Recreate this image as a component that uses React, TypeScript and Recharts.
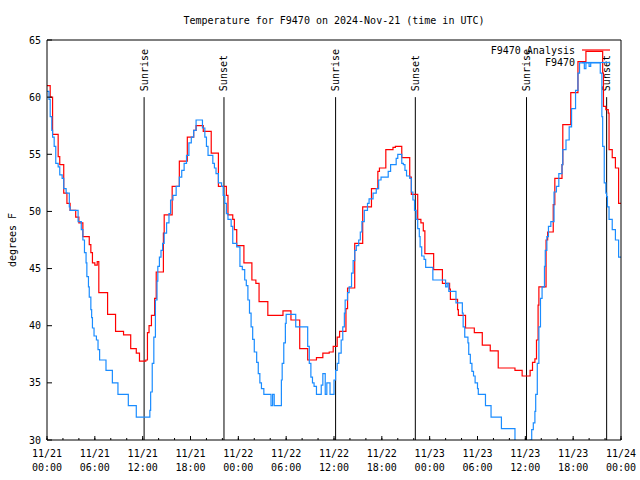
import { LineChart, Line, XAxis, YAxis, ReferenceLine, Legend } from "recharts";

// [hour since 11/21 00:00 UTC, degrees F] - values are step starts
const analysisSteps: [number, number][] = [
  [0, 61], [0.4, 60], [0.7, 56.75], [1.4, 54.8], [1.6, 54.1], [2.1, 51.6], [2.5, 50.7], [2.9, 50.1],
  [3.6, 49.5], [4.0, 49.0], [4.5, 47.8], [5.3, 47.1], [5.5, 46.4], [5.7, 45.5], [6.0, 45.3], [6.3, 45.6],
  [6.5, 42.9], [7.6, 41.0], [8.6, 39.5], [9.6, 39.2], [10.5, 38.0], [11.2, 37.6], [11.6, 36.9], [12.4, 37.0],
  [12.6, 39.4], [12.8, 40.0], [13.1, 40.9], [13.5, 42.4], [13.7, 44.7], [14.6, 48.1], [14.7, 49.7], [15.7, 52.2],
  [16.6, 54.4], [17.6, 56.5], [18.4, 57.1], [18.7, 57.5], [19.6, 57.0], [20.6, 55.1], [21.5, 52.2], [22.5, 51.4],
  [22.7, 49.7], [23.3, 49.3], [23.5, 48.4], [23.8, 47.0], [24.7, 45.5], [25.7, 44.0], [26.2, 43.7], [26.6, 42.1],
  [27.7, 40.9], [29.6, 41.3], [30.6, 40.5], [31.7, 38.0], [32.7, 37.0], [33.8, 37.2], [34.6, 37.6], [35.4, 37.7],
  [35.9, 38.2], [36.4, 39.0], [36.7, 39.5], [37.5, 41.5], [37.7, 43.3], [38.6, 47.2], [39.6, 50.4], [40.7, 52.0],
  [41.5, 53.5], [41.7, 53.8], [42.5, 55.4], [43.4, 55.6], [43.7, 55.7], [44.5, 54.7], [45.5, 53.0], [45.7, 51.5],
  [46.5, 49.3], [46.9, 49.0], [47.2, 48.3], [47.4, 46.3], [48.5, 44.9], [49.6, 43.7], [50.5, 43.2], [50.6, 42.3],
  [51.5, 41.4], [51.6, 40.9], [52.5, 39.8], [53.6, 39.4], [54.6, 38.3], [55.6, 37.8], [56.6, 36.3], [58.7, 36.1],
  [59.6, 35.6], [60.6, 36.1], [60.9, 36.8], [61.2, 37.1], [61.4, 38.75], [61.6, 41.8], [61.7, 43.4], [62.6, 47.5],
  [62.8, 48.2], [63.5, 50.6], [63.7, 52.9], [64.6, 54.1], [64.7, 57.6], [65.7, 60.4], [66.6, 63.1], [67.6, 64.0],
  [69.7, 62.1], [69.8, 59.2], [70.1, 58.9], [70.4, 58.6], [70.5, 55.4], [70.9, 54.7], [71.3, 53.8], [71.7, 50.7],
  [72, 50.7],
];

const stationSteps: [number, number][] = [
  [0, 60.5], [0.25, 59.8], [0.4, 58.3], [0.6, 57.1], [0.7, 56.5], [0.9, 55.7], [1.1, 54.2], [1.4, 53.9],
  [1.6, 53.2], [1.9, 52.9], [2.1, 52.0], [2.4, 51.6], [2.8, 50.4], [2.9, 50.1], [3.9, 49.1], [4.3, 48.4],
  [4.5, 47.5], [4.7, 46.4], [4.9, 45.5], [5.0, 44.3], [5.2, 43.4], [5.3, 42.5], [5.5, 41.4], [5.6, 40.7],
  [5.7, 39.8], [5.9, 39.1], [6.2, 38.75], [6.4, 37.9], [6.6, 37.0], [7.4, 36.1], [8.2, 35.0], [8.9, 34.0],
  [10.2, 33.0], [11.2, 32.0], [12.9, 32.6], [13.0, 34.2], [13.2, 36.7], [13.4, 39.0], [13.6, 42.25], [13.8, 43.9],
  [13.9, 45.2], [14.1, 46.0], [14.3, 46.6], [14.5, 47.2], [14.7, 48.1], [15.0, 49.0], [15.3, 49.8], [15.5, 51.0],
  [15.8, 51.4], [16.2, 52.2], [16.6, 53.0], [16.9, 53.6], [17.2, 54.2], [17.5, 54.9], [17.8, 56.0], [18.1, 56.5],
  [18.4, 57.1], [18.7, 58.0], [19.5, 57.3], [19.8, 56.5], [20.0, 55.7], [20.2, 54.9], [20.8, 54.2], [21.0, 53.8],
  [21.2, 53.3], [21.5, 52.5], [21.9, 52.2], [22.1, 51.4], [22.3, 50.7], [22.5, 49.8], [22.7, 49.3], [23.1, 48.7],
  [23.3, 47.2], [23.8, 46.9], [24.2, 45.2], [24.5, 44.9], [24.8, 44.0], [25.0, 43.5], [25.2, 42.25], [25.4, 41.1],
  [25.6, 39.9], [25.8, 38.8], [26.0, 37.7], [26.3, 36.8], [26.5, 35.8], [26.7, 35.0], [26.9, 34.5], [27.2, 34.0],
  [28.1, 33.0], [28.3, 34.0], [28.5, 33.0], [29.4, 35.25], [29.5, 36.7], [29.7, 38.5], [29.9, 40.2], [30.0, 41.0],
  [31.2, 39.9], [32.7, 38.2], [32.9, 36.7], [33.1, 35.5], [33.3, 35.0], [33.5, 34.7], [33.8, 34.0], [34.4, 34.8],
  [34.6, 35.8], [34.9, 34.0], [35.1, 35.0], [35.5, 34.0], [36.0, 35.25], [36.2, 36.1], [36.4, 36.7], [36.6, 37.6],
  [36.9, 38.75], [37.1, 39.9], [37.3, 41.1], [37.4, 42.25], [37.7, 42.9], [37.9, 43.4], [38.2, 44.6], [38.4, 45.7],
  [38.6, 46.6], [38.8, 47.0], [39.1, 47.5], [39.3, 48.2], [39.5, 49.1], [39.8, 50.1], [40.2, 50.7], [40.4, 51.1],
  [40.9, 51.6], [41.3, 52.0], [41.6, 52.75], [41.9, 53.0], [42.8, 53.5], [43.1, 54.1], [43.8, 54.65], [44.0, 55.0],
  [44.5, 54.2], [44.7, 54.1], [44.9, 53.6], [45.1, 53.1], [45.5, 52.9], [45.7, 51.7], [45.9, 51.0], [46.1, 50.1],
  [46.3, 49.3], [46.5, 48.5], [46.7, 47.8], [46.8, 46.9], [47.0, 46.1], [47.3, 45.8], [47.5, 45.1], [48.4, 44.0],
  [50.0, 43.4], [50.2, 43.7], [50.4, 43.0], [51.3, 42.0], [52.1, 41.1], [52.2, 39.9], [52.4, 39.0], [52.8, 38.5],
  [52.9, 37.5], [53.1, 36.7], [53.3, 36.0], [53.5, 35.6], [53.7, 35.0], [54.0, 34.5], [54.1, 34.0], [55.0, 33.0],
  [55.7, 32.0], [57.0, 31.0], [58.7, 29.5], [59.5, 29.0], [60.6, 30.0], [60.8, 30.9], [61.0, 31.5], [61.2, 32.5],
  [61.3, 34.0], [61.5, 36.7], [61.7, 39.9], [61.9, 42.4], [62.1, 43.4], [62.4, 45.2], [62.5, 46.6], [62.7, 47.8],
  [62.9, 48.7], [63.2, 49.1], [63.6, 51.7], [63.9, 52.2], [64.2, 53.3], [64.6, 54.1], [64.7, 55.4], [65.1, 56.25],
  [65.5, 57.4], [65.8, 59.0], [66.3, 60.6], [66.6, 62.1], [66.8, 63.0], [67.4, 62.5], [67.6, 63.0], [68.0, 62.7],
  [68.2, 63.0], [69.4, 62.1], [69.6, 58.3], [69.7, 55.7], [69.9, 52.5], [70.1, 51.6], [70.2, 51.3], [70.3, 50.4],
  [70.5, 49.3], [70.9, 48.4], [71.3, 47.5], [71.7, 46.0], [72, 46.0],
];

const sunHours = [12.18, 22.2, 36.2, 46.2, 60.15, 70.2];
const sunNames = ["Sunrise", "Sunset", "Sunrise", "Sunset", "Sunrise", "Sunset"];

const hourTicks = [0, 2, 4, 6, 8, 10, 12, 14, 16, 18, 20, 22, 24, 26, 28, 30, 32, 34, 36,
  38, 40, 42, 44, 46, 48, 50, 52, 54, 56, 58, 60, 62, 64, 66, 68, 70, 72];
const tempTicks = [30, 35, 40, 45, 50, 55, 60, 65];

const title = "Temperature for F9470 on 2024-Nov-21 (time in UTC)";
const series = [
  { name: "F9470 Analysis", color: "#ff0000" },
  { name: "F9470", color: "#1a8cff" },
];

const FONT = "'DejaVu Sans Mono', monospace";

const toRows = (steps: [number, number][]) => steps.map(([h, t]) => ({ h, t }));

function BottomTick(props: any) {
  const { x, y, payload } = props;
  const v = payload.value;
  if (v % 6 !== 0) return null;
  const day = 21 + Math.floor(v / 24);
  const hh = String(v % 24).padStart(2, "0");
  return (
    <g>
      <line x1={x} x2={x} y1={y} y2={y - 4} stroke="#000" />
      <text x={x} y={y + 17} textAnchor="middle" fontFamily={FONT} fontSize={10} fill="#000">
        {`11/${day}`}
      </text>
      <text x={x} y={y + 31} textAnchor="middle" fontFamily={FONT} fontSize={10} fill="#000">
        {`${hh}:00`}
      </text>
    </g>
  );
}

function TopTick(props: any) {
  const { x, y, payload } = props;
  if (payload.value % 6 !== 0) return null;
  return <line x1={x} x2={x} y1={y} y2={y + 4} stroke="#000" />;
}

function YLabel(props: any) {
  const { viewBox } = props;
  const x = viewBox.x + 5;
  const y = viewBox.y + viewBox.height / 2;
  return (
    <text x={x} y={y} transform={`rotate(-90, ${x}, ${y})`} textAnchor="middle"
      dominantBaseline="central" fontFamily={FONT} fontSize={10} fill="#000">
      degrees F
    </text>
  );
}

function SunLabel(props: any) {
  const { viewBox, text } = props;
  const x = viewBox.x;
  const y = viewBox.y - 6;
  return (
    <text x={x} y={y} transform={`rotate(-90, ${x}, ${y})`} textAnchor="start"
      dominantBaseline="central" fontFamily={FONT} fontSize={10} fill="#000">
      {text}
    </text>
  );
}

function TitleAndKey() {
  return (
    <svg width={640} height={70} style={{ display: "block" }}>
      <text x={334} y={20} textAnchor="middle" dominantBaseline="central" fontFamily={FONT} fontSize={10} fill="#000">
        {title}
      </text>
      {series.map((s, i) => (
        <g key={s.name}>
          <text x={575} y={50 + i * 12.5} textAnchor="end" dominantBaseline="central"
            fontFamily={FONT} fontSize={10} fill="#000">
            {s.name}
          </text>
          <line x1={582} x2={610} y1={50 + i * 12.5} y2={50 + i * 12.5} stroke={s.color} strokeWidth={1.2} />
        </g>
      ))}
    </svg>
  );
}

export default function App() {
  return (
    <div style={{ position: "absolute", left: 0, top: 0, background: "#fff" }}>
      <LineChart width={640} height={480} margin={{ top: 39, right: 18, bottom: 0, left: 7 }}>
        <XAxis xAxisId="b" dataKey="h" type="number" domain={[0, 72]} ticks={hourTicks} interval={0}
          allowDataOverflow height={40} stroke="#000" tickSize={-2} tickMargin={2} tick={BottomTick} />
        <XAxis xAxisId="t" orientation="top" type="number" domain={[0, 72]} ticks={hourTicks} interval={0}
          height={1} stroke="#000" tickSize={-2} tickMargin={2} tick={TopTick} />
        <YAxis yAxisId="l" type="number" domain={[30, 65]} ticks={tempTicks} interval={0} allowDataOverflow
          width={40} stroke="#000" tickSize={-5} tickMargin={11}
          tick={{ fill: "#000", fontSize: 10, fontFamily: FONT }} label={<YLabel />} />
        <YAxis yAxisId="r" orientation="right" type="number" domain={[30, 65]} ticks={tempTicks} interval={0}
          width={1} stroke="#000" tickSize={-4} tick={false} />
        {sunHours.map((h, i) => (
          <ReferenceLine key={i} xAxisId="b" yAxisId="l" segment={[{ x: h, y: 30 }, { x: h, y: 60 }]}
            stroke="#000" strokeWidth={1} label={<SunLabel text={sunNames[i]} />} />
        ))}
        <Line xAxisId="b" yAxisId="l" data={toRows(analysisSteps)} dataKey="t" name={series[0].name}
          type="stepAfter" stroke={series[0].color} strokeWidth={1.2} dot={false} isAnimationActive={false} />
        <Line xAxisId="b" yAxisId="l" data={toRows(stationSteps)} dataKey="t" name={series[1].name}
          type="stepAfter" stroke={series[1].color} strokeWidth={1.2} dot={false} isAnimationActive={false} />
        <Legend layout="vertical" align="center" verticalAlign="middle" content={TitleAndKey}
          wrapperStyle={{ left: 0, top: 0, width: 640, height: 70 }} />
      </LineChart>
    </div>
  );
}
